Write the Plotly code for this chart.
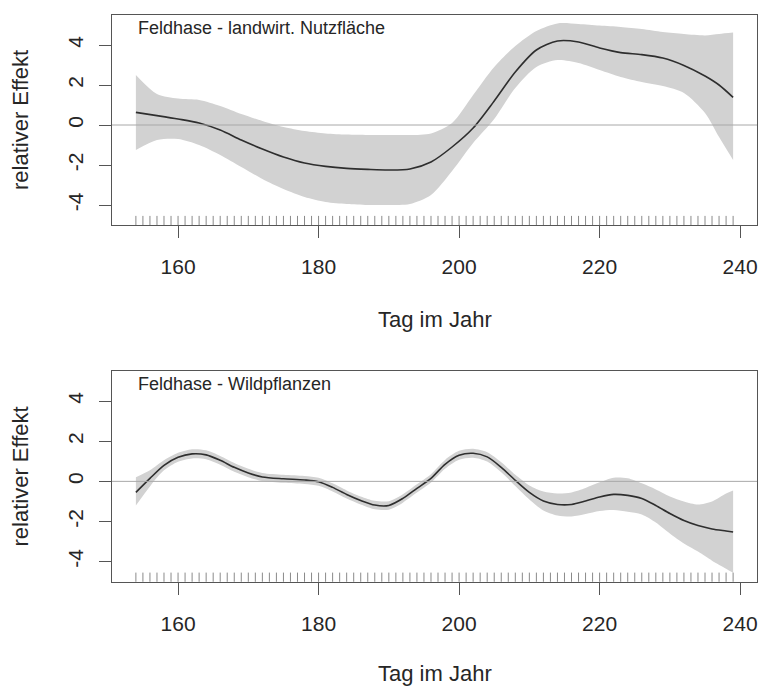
import plotly.graph_objects as go

# ---------------- data ----------------
days_top = [154, 157, 160, 163, 166, 169, 172, 175, 178, 181, 184, 187, 190, 193, 196,
            199, 202, 205, 208, 211, 214, 217, 220, 223, 226, 229, 232, 235, 237, 239]
fit_top = [0.63, 0.47, 0.3, 0.1, -0.25, -0.75, -1.2, -1.6, -1.9, -2.07, -2.17, -2.22, -2.25, -2.2, -1.85,
           -1.1, -0.15, 1.2, 2.65, 3.75, 4.2, 4.15, 3.85, 3.62, 3.52, 3.35, 2.98, 2.45, 2.0, 1.38]
upper_top = [2.5, 1.55, 1.32, 1.25, 0.95, 0.55, 0.2, -0.1, -0.3, -0.42, -0.48, -0.5, -0.5, -0.5, -0.42,
             0.1, 1.5, 2.9, 3.95, 4.7, 5.08, 5.05, 4.97, 4.9, 4.8, 4.65, 4.55, 4.48, 4.55, 4.62]
lower_top = [-1.25, -0.75, -0.7, -1.0, -1.5, -2.1, -2.7, -3.2, -3.6, -3.85, -3.95, -4.0, -4.0, -3.95, -3.5,
             -2.3, -0.9, 0.3, 1.85, 2.9, 3.25, 3.1, 2.75, 2.4, 2.15, 1.95, 1.6, 0.6, -0.6, -1.75]

days_bot = [154, 156, 158, 160, 162, 164, 166, 168, 170, 172, 175, 178, 180, 182, 184, 186, 188, 190,
            192, 194, 196, 198, 200, 202, 204, 206, 208, 210, 212, 214, 216, 218, 220, 222, 224, 226,
            228, 230, 232, 234, 236, 238, 239]
fit_bot = [-0.55, 0.15, 0.8, 1.2, 1.37, 1.32, 1.05, 0.7, 0.42, 0.22, 0.13, 0.07, -0.02, -0.3, -0.65, -0.95,
           -1.18, -1.2, -0.85, -0.35, 0.15, 0.85, 1.3, 1.4, 1.22, 0.7, 0.05, -0.55, -0.98, -1.15, -1.15,
           -0.98, -0.78, -0.65, -0.7, -0.85, -1.2, -1.6, -1.95, -2.2, -2.37, -2.47, -2.52]
upper_bot = [0.2, 0.55, 1.05, 1.42, 1.6, 1.55, 1.27, 0.92, 0.63, 0.42, 0.33, 0.27, 0.18, -0.1, -0.45, -0.75,
             -0.97, -0.99, -0.64, -0.14, 0.36, 1.07, 1.52, 1.62, 1.45, 0.95, 0.33, -0.2, -0.5, -0.6, -0.55,
             -0.33, -0.05, 0.18, 0.15, -0.1, -0.4, -0.75, -1.0, -1.15, -1.0, -0.6, -0.45]
lower_bot = [-1.2, -0.25, 0.55, 0.98, 1.14, 1.1, 0.83, 0.48, 0.21, 0.02, -0.07, -0.13, -0.22, -0.5, -0.85, -1.15,
             -1.39, -1.41, -1.06, -0.56, -0.06, 0.63, 1.08, 1.18, 0.99, 0.45, -0.23, -0.9, -1.45, -1.7, -1.75,
             -1.63, -1.48, -1.43, -1.52, -1.65, -2.05, -2.6, -3.1, -3.5, -3.95, -4.35, -4.55]

rug_days = list(range(154, 240))

titles = ["Feldhase - landwirt. Nutzfläche", "Feldhase - Wildpflanzen"]
x_ticks = [160, 180, 200, 220, 240]
y_ticks = [-4, -2, 0, 2, 4]
x_title = "Tag im Jahr"
y_title = "relativer Effekt"

X_RANGE = [150.6, 242.4]
Y_RANGE = [-5.0, 5.5]

# ---------------- figure ----------------
W, H = 762, 688
ML, MR, MT, MB = 112, 5, 15, 106
PH = H - MT - MB


def py(px):
    return (H - MB - px) / PH


FONT = "Liberation Sans, Arial, sans-serif"
TXT = "#262626"
BAND = "#d2d2d2"
LINE = "#2e2e2e"
BOX = "#555555"

fig = go.Figure()
panels = [
    (days_top, fit_top, upper_top, lower_top, "x", "y"),
    (days_bot, fit_bot, upper_bot, lower_bot, "x2", "y2"),
]
for d, f, u, l, xa, ya in panels:
    fig.add_trace(go.Scatter(x=d, y=u, mode="lines", line=dict(width=0, shape="spline", smoothing=0.8),
                             xaxis=xa, yaxis=ya, showlegend=False, hoverinfo="skip"))
    fig.add_trace(go.Scatter(x=d, y=l, mode="lines", line=dict(width=0, shape="spline", smoothing=0.8),
                             fill="tonexty", fillcolor=BAND,
                             xaxis=xa, yaxis=ya, showlegend=False, hoverinfo="skip"))
    fig.add_trace(go.Scatter(x=d, y=f, mode="lines", line=dict(color=LINE, width=1.6, shape="spline", smoothing=0.8),
                             xaxis=xa, yaxis=ya, showlegend=False))
    fig.add_trace(go.Scatter(x=rug_days, y=[Y_RANGE[0]] * len(rug_days), mode="markers",
                             marker=dict(symbol="line-ns", size=13, line=dict(width=1, color="#8a8a8a")),
                             cliponaxis=True, xaxis=xa, yaxis=ya, showlegend=False, hoverinfo="skip"))

domains = [(py(225), py(15)), (py(581.7), py(371))]
for i, (dom, ttl) in enumerate(zip(domains, titles)):
    sfx = "" if i == 0 else "2"
    fig.layout["xaxis" + sfx] = dict(
        domain=[0, 1], anchor="y" + sfx, range=X_RANGE, tickvals=x_ticks,
        ticks="outside", ticklen=12, tickwidth=1, tickcolor=BOX,
        showline=True, linecolor=BOX, linewidth=1, mirror=True,
        showgrid=False, zeroline=False, ticklabelstandoff=11,
        tickfont=dict(family=FONT, size=21, color=TXT),
    )
    fig.layout["yaxis" + sfx] = dict(
        domain=list(dom), anchor="x" + sfx, range=Y_RANGE, tickvals=y_ticks,
        ticktext=[str(v) for v in y_ticks],
        ticks="outside", ticklen=12, tickwidth=1, tickcolor=BOX, tickangle=-90,
        showline=True, linecolor=BOX, linewidth=1, mirror=True,
        showgrid=False, zeroline=False, ticklabelstandoff=8,
        tickfont=dict(family=FONT, size=21, color=TXT),
    )
    fig.add_shape(type="line", xref="x" + sfx + " domain", x0=0, x1=1, yref="y" + sfx, y0=0, y1=0,
                  line=dict(color="#a8a8a8", width=1), layer="above")
    fig.add_annotation(text=ttl, xref="x" + sfx + " domain", yref="y" + sfx + " domain",
                       x=(136 - ML) / (W - ML - MR), y=0.94, xanchor="left", yanchor="middle",
                       showarrow=False, font=dict(family=FONT, size=18, color=TXT))

# axis titles as annotations
for yc, xc in [(120, 319), (476.5, 673)]:
    fig.add_annotation(text=y_title, xref="paper", yref="paper", x=(20 - ML) / (W - ML - MR), y=py(yc),
                       xanchor="center", yanchor="middle", textangle=-90, showarrow=False,
                       font=dict(family=FONT, size=22, color=TXT))
    fig.add_annotation(text=x_title, xref="paper", yref="paper", x=0.5, y=py(xc),
                       xanchor="center", yanchor="middle", showarrow=False,
                       font=dict(family=FONT, size=22, color=TXT))

fig.update_layout(
    width=W, height=H, margin=dict(l=ML, r=MR, t=MT, b=MB, autoexpand=False),
    paper_bgcolor="white", plot_bgcolor="white", showlegend=False,
)

fig.write_html("out.html")
